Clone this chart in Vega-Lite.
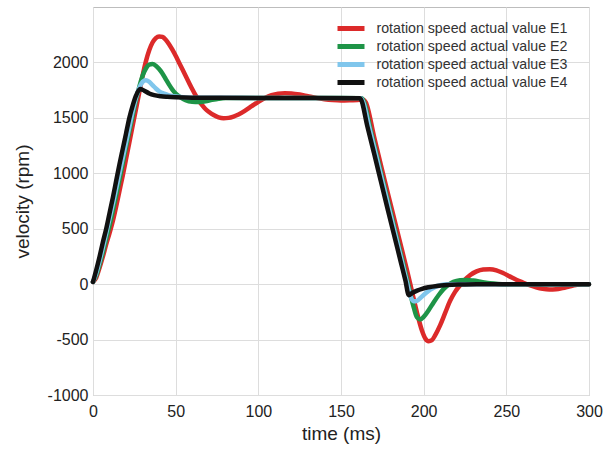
{
  "$schema": "https://vega.github.io/schema/vega-lite/v6.json",
  "width": 496,
  "height": 388,
  "autosize": {"type": "none"},
  "padding": {"left": 93, "top": 7, "right": 24, "bottom": 54},
  "background": "white",
  "config": {
    "font": "Liberation Sans",
    "view": {"stroke": "#bdbdbd", "strokeWidth": 1},
    "axis": {"gridColor": "#dddddd", "gridWidth": 1, "domain": false, "ticks": false, "labelFontSize": 16, "labelColor": "#222", "titleFontSize": 19, "titleFontWeight": "normal", "titleColor": "#222", "labelFont": "Liberation Sans", "titleFont": "Liberation Sans"}
  },
  "data": {"values": [
    {"s":"E1","t":0,"v":20},{"s":"E1","t":2,"v":60},{"s":"E1","t":4,"v":150},{"s":"E1","t":6,"v":250},{"s":"E1","t":8,"v":360},{"s":"E1","t":10,"v":460},{"s":"E1","t":12,"v":570},{"s":"E1","t":14,"v":700},{"s":"E1","t":16,"v":840},{"s":"E1","t":18,"v":980},{"s":"E1","t":20,"v":1130},{"s":"E1","t":22,"v":1280},{"s":"E1","t":24,"v":1430},{"s":"E1","t":26,"v":1580},{"s":"E1","t":28,"v":1730},{"s":"E1","t":30,"v":1880},{"s":"E1","t":32,"v":2010},{"s":"E1","t":34,"v":2110},{"s":"E1","t":36,"v":2180},{"s":"E1","t":38,"v":2220},{"s":"E1","t":40,"v":2235},{"s":"E1","t":42,"v":2230},{"s":"E1","t":44,"v":2205},{"s":"E1","t":46,"v":2165},{"s":"E1","t":48,"v":2115},{"s":"E1","t":50,"v":2060},{"s":"E1","t":52,"v":2000},{"s":"E1","t":54,"v":1940},{"s":"E1","t":56,"v":1880},{"s":"E1","t":58,"v":1820},{"s":"E1","t":60,"v":1760},{"s":"E1","t":62,"v":1705},{"s":"E1","t":64,"v":1655},{"s":"E1","t":66,"v":1615},{"s":"E1","t":68,"v":1580},{"s":"E1","t":70,"v":1555},{"s":"E1","t":73,"v":1525},{"s":"E1","t":76,"v":1505},{"s":"E1","t":79,"v":1497},{"s":"E1","t":82,"v":1500},{"s":"E1","t":85,"v":1512},{"s":"E1","t":88,"v":1530},{"s":"E1","t":92,"v":1565},{"s":"E1","t":96,"v":1605},{"s":"E1","t":100,"v":1645},{"s":"E1","t":104,"v":1680},{"s":"E1","t":108,"v":1705},{"s":"E1","t":112,"v":1718},{"s":"E1","t":116,"v":1722},{"s":"E1","t":120,"v":1720},{"s":"E1","t":125,"v":1710},{"s":"E1","t":130,"v":1695},{"s":"E1","t":135,"v":1680},{"s":"E1","t":140,"v":1668},{"s":"E1","t":145,"v":1660},{"s":"E1","t":150,"v":1656},{"s":"E1","t":155,"v":1658},{"s":"E1","t":160,"v":1662},{"s":"E1","t":163,"v":1665},{"s":"E1","t":165,"v":1640},{"s":"E1","t":170,"v":1330},{"s":"E1","t":175,"v":1020},{"s":"E1","t":180,"v":720},{"s":"E1","t":185,"v":420},{"s":"E1","t":190,"v":120},{"s":"E1","t":193,"v":-70},{"s":"E1","t":196,"v":-260},{"s":"E1","t":199,"v":-420},{"s":"E1","t":201,"v":-490},{"s":"E1","t":203,"v":-515},{"s":"E1","t":205,"v":-505},{"s":"E1","t":207,"v":-460},{"s":"E1","t":210,"v":-370},{"s":"E1","t":213,"v":-260},{"s":"E1","t":216,"v":-150},{"s":"E1","t":219,"v":-70},{"s":"E1","t":222,"v":-10},{"s":"E1","t":225,"v":40},{"s":"E1","t":228,"v":80},{"s":"E1","t":232,"v":115},{"s":"E1","t":236,"v":132},{"s":"E1","t":240,"v":135},{"s":"E1","t":244,"v":125},{"s":"E1","t":248,"v":100},{"s":"E1","t":252,"v":70},{"s":"E1","t":256,"v":40},{"s":"E1","t":260,"v":15},{"s":"E1","t":264,"v":-8},{"s":"E1","t":268,"v":-28},{"s":"E1","t":272,"v":-42},{"s":"E1","t":276,"v":-48},{"s":"E1","t":280,"v":-46},{"s":"E1","t":284,"v":-36},{"s":"E1","t":288,"v":-22},{"s":"E1","t":292,"v":-8},{"s":"E1","t":296,"v":0},{"s":"E1","t":300,"v":0},
    {"s":"E2","t":0,"v":20},{"s":"E2","t":2,"v":80},{"s":"E2","t":4,"v":180},{"s":"E2","t":6,"v":290},{"s":"E2","t":8,"v":410},{"s":"E2","t":10,"v":530},{"s":"E2","t":12,"v":660},{"s":"E2","t":14,"v":800},{"s":"E2","t":16,"v":940},{"s":"E2","t":18,"v":1090},{"s":"E2","t":20,"v":1240},{"s":"E2","t":22,"v":1380},{"s":"E2","t":24,"v":1520},{"s":"E2","t":26,"v":1660},{"s":"E2","t":28,"v":1780},{"s":"E2","t":30,"v":1880},{"s":"E2","t":32,"v":1945},{"s":"E2","t":34,"v":1980},{"s":"E2","t":36,"v":1985},{"s":"E2","t":38,"v":1970},{"s":"E2","t":40,"v":1940},{"s":"E2","t":42,"v":1900},{"s":"E2","t":44,"v":1850},{"s":"E2","t":46,"v":1800},{"s":"E2","t":48,"v":1755},{"s":"E2","t":50,"v":1720},{"s":"E2","t":53,"v":1685},{"s":"E2","t":56,"v":1660},{"s":"E2","t":60,"v":1645},{"s":"E2","t":64,"v":1642},{"s":"E2","t":68,"v":1650},{"s":"E2","t":72,"v":1662},{"s":"E2","t":76,"v":1672},{"s":"E2","t":80,"v":1678},{"s":"E2","t":90,"v":1680},{"s":"E2","t":120,"v":1680},{"s":"E2","t":150,"v":1680},{"s":"E2","t":162.5,"v":1678},{"s":"E2","t":164,"v":1640},{"s":"E2","t":168,"v":1385},{"s":"E2","t":172,"v":1140},{"s":"E2","t":176,"v":895},{"s":"E2","t":180,"v":650},{"s":"E2","t":184,"v":405},{"s":"E2","t":188,"v":160},{"s":"E2","t":191,"v":-25},{"s":"E2","t":194,"v":-210},{"s":"E2","t":196,"v":-300},{"s":"E2","t":198,"v":-318},{"s":"E2","t":200,"v":-295},{"s":"E2","t":203,"v":-235},{"s":"E2","t":206,"v":-165},{"s":"E2","t":209,"v":-100},{"s":"E2","t":212,"v":-45},{"s":"E2","t":215,"v":-5},{"s":"E2","t":218,"v":20},{"s":"E2","t":222,"v":35},{"s":"E2","t":226,"v":38},{"s":"E2","t":230,"v":32},{"s":"E2","t":235,"v":20},{"s":"E2","t":240,"v":8},{"s":"E2","t":245,"v":2},{"s":"E2","t":250,"v":0},{"s":"E2","t":300,"v":0},
    {"s":"E3","t":0,"v":20},{"s":"E3","t":2,"v":100},{"s":"E3","t":4,"v":210},{"s":"E3","t":6,"v":330},{"s":"E3","t":8,"v":460},{"s":"E3","t":10,"v":590},{"s":"E3","t":12,"v":720},{"s":"E3","t":14,"v":860},{"s":"E3","t":16,"v":1000},{"s":"E3","t":18,"v":1140},{"s":"E3","t":20,"v":1280},{"s":"E3","t":22,"v":1420},{"s":"E3","t":24,"v":1560},{"s":"E3","t":26,"v":1680},{"s":"E3","t":28,"v":1770},{"s":"E3","t":30,"v":1825},{"s":"E3","t":32,"v":1840},{"s":"E3","t":34,"v":1825},{"s":"E3","t":36,"v":1795},{"s":"E3","t":38,"v":1765},{"s":"E3","t":40,"v":1740},{"s":"E3","t":43,"v":1718},{"s":"E3","t":46,"v":1703},{"s":"E3","t":50,"v":1692},{"s":"E3","t":55,"v":1685},{"s":"E3","t":60,"v":1681},{"s":"E3","t":100,"v":1680},{"s":"E3","t":162,"v":1678},{"s":"E3","t":163.5,"v":1640},{"s":"E3","t":167,"v":1420},{"s":"E3","t":171,"v":1175},{"s":"E3","t":175,"v":930},{"s":"E3","t":179,"v":685},{"s":"E3","t":183,"v":440},{"s":"E3","t":187,"v":195},{"s":"E3","t":190,"v":10},{"s":"E3","t":192,"v":-110},{"s":"E3","t":194,"v":-155},{"s":"E3","t":196,"v":-150},{"s":"E3","t":198,"v":-125},{"s":"E3","t":201,"v":-85},{"s":"E3","t":204,"v":-50},{"s":"E3","t":207,"v":-25},{"s":"E3","t":210,"v":-10},{"s":"E3","t":214,"v":0},{"s":"E3","t":300,"v":0},
    {"s":"E4","t":0,"v":20},{"s":"E4","t":2,"v":130},{"s":"E4","t":4,"v":250},{"s":"E4","t":6,"v":380},{"s":"E4","t":8,"v":500},{"s":"E4","t":10,"v":640},{"s":"E4","t":12,"v":780},{"s":"E4","t":14,"v":930},{"s":"E4","t":16,"v":1080},{"s":"E4","t":18,"v":1220},{"s":"E4","t":20,"v":1360},{"s":"E4","t":22,"v":1500},{"s":"E4","t":24,"v":1610},{"s":"E4","t":26,"v":1700},{"s":"E4","t":28.5,"v":1760},{"s":"E4","t":31,"v":1745},{"s":"E4","t":34,"v":1720},{"s":"E4","t":37,"v":1705},{"s":"E4","t":41,"v":1695},{"s":"E4","t":45,"v":1690},{"s":"E4","t":50,"v":1686},{"s":"E4","t":60,"v":1682},{"s":"E4","t":100,"v":1680},{"s":"E4","t":161.5,"v":1676},{"s":"E4","t":166,"v":1420},{"s":"E4","t":170,"v":1180},{"s":"E4","t":174,"v":935},{"s":"E4","t":178,"v":690},{"s":"E4","t":182,"v":450},{"s":"E4","t":186,"v":210},{"s":"E4","t":189,"v":30},{"s":"E4","t":191,"v":-100},{"s":"E4","t":193,"v":-80},{"s":"E4","t":196,"v":-58},{"s":"E4","t":199,"v":-42},{"s":"E4","t":203,"v":-28},{"s":"E4","t":208,"v":-16},{"s":"E4","t":214,"v":-8},{"s":"E4","t":222,"v":-3},{"s":"E4","t":232,"v":0},{"s":"E4","t":300,"v":0}
  ]},
  "mark": {"type": "line", "strokeWidth": 4.5, "strokeCap": "round", "strokeJoin": "round", "interpolate": "monotone"},
  "encoding": {
    "x": {"field": "t", "type": "quantitative", "title": "time (ms)",
      "scale": {"domain": [0, 300], "nice": false},
      "axis": {"values": [0, 50, 100, 150, 200, 250, 300], "labelPadding": 8, "titlePadding": 5, "labelFlush": false}},
    "y": {"field": "v", "type": "quantitative", "title": "velocity (rpm)",
      "scale": {"domain": [-1000, 2500], "nice": false},
      "axis": {"values": [-1000, -500, 0, 500, 1000, 1500, 2000], "labelExpr": "datum.value + ''", "labelPadding": 5, "titlePadding": 15, "labelFlush": false}},
    "color": {"field": "s", "type": "nominal",
      "scale": {"domain": ["E1", "E2", "E3", "E4"], "range": ["#dc2a2a", "#1e9447", "#80c6ec", "#111111"]},
      "legend": {"orient": "none", "legendX": 250.5, "legendY": 14, "title": null, "symbolType": "M-2.7,0H2.7", "symbolStrokeWidth": 5, "symbolSize": 100, "labelFontSize": 14.2, "labelColor": "#333", "labelOffset": 18, "labelLimit": 400, "rowPadding": -3.5, "labelExpr": "'rotation speed actual value ' + datum.label"}}
  }
}
